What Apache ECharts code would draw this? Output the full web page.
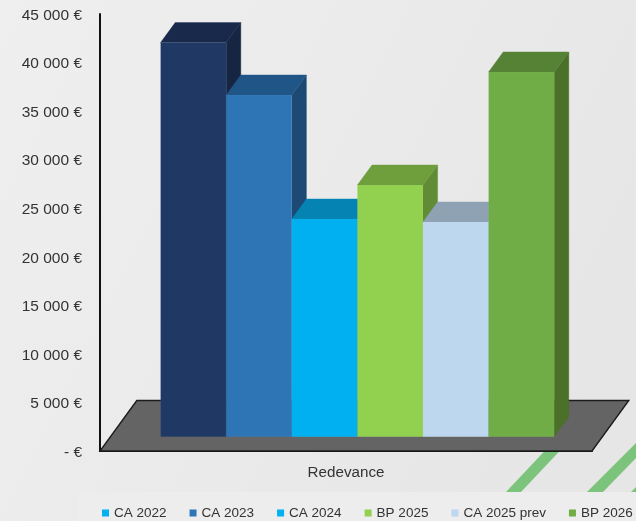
<!DOCTYPE html>
<html>
<head>
<meta charset="utf-8">
<style>html,body{margin:0;padding:0;background:#ececec}#c{width:636px;height:521px}</style>
<script src="https://cdn.jsdelivr.net/npm/echarts@6/dist/echarts.min.js"></script>
</head>
<body>
<div id="c"></div>
<script>
const categories = ['Redevance'];
const seriesNames = ['CA 2022', 'CA 2023', 'CA 2024', 'BP 2025', 'CA 2025 prev', 'BP 2026'];
const seriesValues = [40580, 35190, 22420, 25920, 22110, 37560];
const frontColors = ['#1f3864', '#2e75b6', '#00b0f0', '#92d050', '#bdd7ee', '#70ad47'];
const topColors = ['#18294b', '#1f5587', '#0583b3', '#6f9e3c', '#8ea2b4', '#558235'];
const sideColors = ['#152542', '#1c4a74', '#04739c', '#618b35', '#7d8e9e', '#4b7029'];
const legendColors = ['#00b0f0', '#2e75b6', '#00b0f0', '#92d050', '#bdd7ee', '#70ad47'];
const yTicks = { min: 0, max: 45000, step: 5000 };

const DEPTH_X = 14.6, DEPTH_Y = -20;
const FLOOR_X = 36.8, FLOOR_Y = -50.5;
const BAR_LIFT = -14.3, BAR_W = 65.6, GROUP_SHIFT = -185.4;

function floorItem(params, api) {
  const c = api.coord([0, 0]);
  const half = api.size([1, 0])[0] / 2;
  const l = c[0] - half, r = c[0] + half, y = c[1];
  return {
    type: 'polygon',
    shape: { points: [[l, y], [r, y], [r + FLOOR_X, y + FLOOR_Y], [l + FLOOR_X, y + FLOOR_Y]] },
    style: { fill: '#646464', stroke: '#1c1c1c', lineWidth: 1.4 }
  };
}

function barRenderer(i) {
  return function (params, api) {
    const base = api.coord([0, 0]);
    const top = api.coord([0, api.value(1)]);
    const x0 = base[0] + GROUP_SHIFT + i * BAR_W;
    const x1 = x0 + BAR_W;
    const y0 = base[1] + BAR_LIFT;
    const y1 = top[1] + BAR_LIFT;
    return {
      type: 'group',
      children: [
        { type: 'polygon', shape: { points: [[x1, y0], [x1 + DEPTH_X, y0 + DEPTH_Y], [x1 + DEPTH_X, y1 + DEPTH_Y], [x1, y1]] },
          style: { fill: sideColors[i], stroke: sideColors[i], lineWidth: 0.4 } },
        { type: 'polygon', shape: { points: [[x0, y1], [x1, y1], [x1 + DEPTH_X, y1 + DEPTH_Y], [x0 + DEPTH_X, y1 + DEPTH_Y]] },
          style: { fill: topColors[i], stroke: topColors[i], lineWidth: 0.4 } },
        { type: 'rect', shape: { x: x0, y: y1, width: BAR_W, height: y0 - y1 },
          style: { fill: frontColors[i], stroke: 'rgba(255,255,255,0.08)', lineWidth: 0.5 } }
      ]
    };
  };
}

const stripeColor = '#7cc47c';
const labelStyle = { fontFamily: 'Liberation Sans', fontSize: 15.5, color: '#333', padding: [3, 0, 0, 0] };
const chart = echarts.init(document.getElementById('c'), null, { renderer: 'canvas' });
chart.setOption({
  animation: false,
  backgroundColor: 'transparent',
  graphic: [
    { type: 'rect', z: -10, silent: true, shape: { x: 0, y: 0, width: 636, height: 521 },
      style: { fill: new echarts.graphic.LinearGradient(0, 0, 1, 0.6, [{ offset: 0, color: '#efefef' }, { offset: 1, color: '#e6e6e6' }]) } },
    { type: 'polygon', z: -9, silent: true, shape: { points: [[506, 492], [521, 492], [570, 440], [555, 440]] }, style: { fill: stripeColor } },
    { type: 'polygon', z: -9, silent: true, shape: { points: [[587, 492], [603, 492], [636, 458], [636, 443]] }, style: { fill: stripeColor } },
    { type: 'polygon', z: -9, silent: true, shape: { points: [[631, 492], [636, 492], [636, 487]] }, style: { fill: stripeColor } },
    { type: 'rect', z: -8, silent: true, shape: { x: 78, y: 492, width: 558, height: 29 }, style: { fill: '#ededed' } }
  ],
  legend: {
    left: 102, top: 506, padding: 0, itemGap: 23, itemWidth: 7, itemHeight: 7, icon: 'rect',
    selectedMode: false,
    textStyle: { fontFamily: 'Liberation Sans', fontSize: 13.5, color: '#333' },
    data: seriesNames.map((n, i) => ({ name: n, itemStyle: { color: legendColors[i] } }))
  },
  grid: { left: 100, right: 44, top: 14, bottom: 70 },
  xAxis: {
    type: 'category', data: categories,
    axisLine: { show: true, lineStyle: { color: '#111', width: 2 } },
    axisTick: { show: false },
    axisLabel: { fontFamily: 'Liberation Sans', fontSize: 15.2, color: '#333', margin: 14 }
  },
  yAxis: {
    type: 'value', min: yTicks.min, max: yTicks.max, interval: yTicks.step,
    splitLine: { show: false },
    axisTick: { show: false },
    axisLine: { show: true, lineStyle: { color: '#111', width: 2 } },
    axisLabel: {
      margin: 18,
      rich: { t: labelStyle },
      formatter: v => '{t|' + (v === 0 ? '- €' : String(v).replace(/\B(?=(\d{3})+$)/g, ' ') + ' €') + '}'
    }
  },
  series: [
    { type: 'custom', name: 'Floor', renderItem: floorItem, data: [[0, 0]], silent: true, z: 1 }
  ].concat(seriesNames.map((n, i) => ({
    type: 'custom', name: n, renderItem: barRenderer(i), data: [[0, seriesValues[i]]],
    itemStyle: { color: frontColors[i] }, z: 3, clip: false
  })))
});
</script>
</body>
</html>
